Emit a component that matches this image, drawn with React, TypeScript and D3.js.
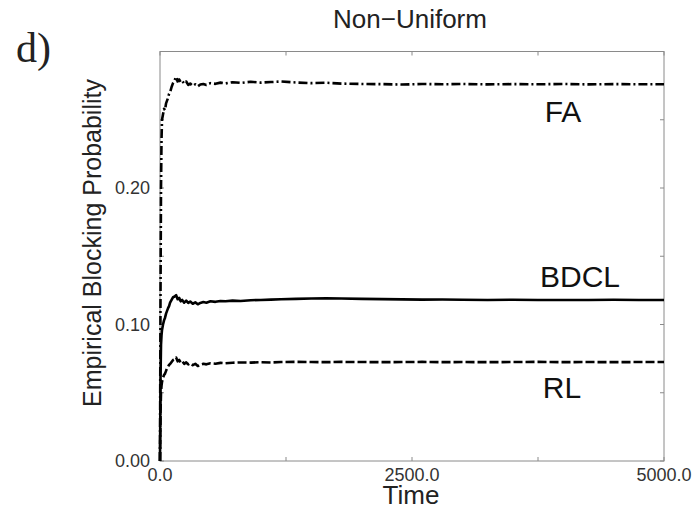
import React from "react";
import * as d3 from "d3";

const times = [0, 5, 10, 15, 20, 30, 40, 50, 60, 70, 80, 90, 100, 115, 130, 145, 160, 175, 190, 205, 220, 240, 260, 280, 300, 325, 350, 375, 400, 430, 460, 500, 550, 600,
  650, 720, 800, 900, 1000, 1100, 1200, 1350, 1500, 1650, 1800, 2000, 2200, 2400, 2600, 2800, 3000, 3250, 3500, 3750, 4000, 4250, 4500, 4750, 5000];

const faValues = [0, 0.12, 0.2, 0.235, 0.25, 0.254, 0.258, 0.257, 0.262, 0.264, 0.266, 0.269, 0.27, 0.274, 0.277, 0.279, 0.2815, 0.278, 0.2795, 0.2775, 0.2785, 0.2765, 0.278, 0.2755, 0.2765, 0.2748, 0.276, 0.2745, 0.2758, 0.2762, 0.2755, 0.2768, 0.2763, 0.2772,
  0.2766, 0.2775, 0.277, 0.2778, 0.2772, 0.2776, 0.278, 0.2773, 0.2768, 0.2771, 0.2765, 0.2762, 0.2761, 0.2758, 0.2762, 0.276, 0.2762, 0.2759, 0.2761, 0.276, 0.2762, 0.2759, 0.2761, 0.276, 0.276];

const bdclValues = [0, 0.06, 0.085, 0.092, 0.096, 0.1, 0.103, 0.105, 0.108, 0.11, 0.112, 0.1135, 0.116, 0.118, 0.12, 0.1205, 0.1215, 0.1185, 0.1195, 0.117, 0.118, 0.116, 0.1175, 0.1158, 0.1168, 0.1152, 0.1162, 0.1148, 0.1158, 0.1165, 0.116, 0.117, 0.1166, 0.1172,
  0.117, 0.1175, 0.1172, 0.1178, 0.118, 0.1182, 0.1185, 0.1188, 0.119, 0.1192, 0.119, 0.1188, 0.1186, 0.1184, 0.1182, 0.1183, 0.1181, 0.118, 0.1181, 0.118, 0.1179, 0.118, 0.1181, 0.118, 0.118];

const rlValues = [0, 0.035, 0.05, 0.055, 0.058, 0.061, 0.063, 0.064, 0.066, 0.068, 0.069, 0.0705, 0.071, 0.0725, 0.074, 0.0745, 0.0758, 0.073, 0.074, 0.0722, 0.0732, 0.0712, 0.0722, 0.0708, 0.0716, 0.0702, 0.0712, 0.0696, 0.0706, 0.0712, 0.0708, 0.0716, 0.0713, 0.0719,
  0.0716, 0.072, 0.0722, 0.0721, 0.0724, 0.0722, 0.0725, 0.0726, 0.0725, 0.0724, 0.0726, 0.0725, 0.0724, 0.0725, 0.0726, 0.0724, 0.0725, 0.0724, 0.0725, 0.0726, 0.0724, 0.0725, 0.0724, 0.0725, 0.0725];

const seriesNames = ["FA", "BDCL", "RL"];
const xTickValues = [0, 1250, 2500, 3750, 5000];
const xTickLabels = ["0.0", "", "2500.0", "", "5000.0"];
const yTickValues = [0, 0.05, 0.1, 0.15, 0.2, 0.25, 0.3];
const yTickLabels = ["0.00", "", "0.10", "", "0.20", "", ""];

const W = 698;
const H = 511;
const left = 160, right = 664, top = 51.5, bottom = 461;

export default function App() {
  const x = d3.scaleLinear().domain([0, 5000]).range([left, right]);
  const y = d3.scaleLinear().domain([0, 0.3]).range([bottom, top]);
  const line = d3.line<number>().x((_, i) => x(times[i])).y((v) => y(v));

  const series = [
    { name: seriesNames[0], values: faValues, dash: "9,3,2,3", lx: 563, ly: 122 },
    { name: seriesNames[1], values: bdclValues, dash: "none", lx: 580, ly: 287 },
    { name: seriesNames[2], values: rlValues, dash: "9,3", lx: 562, ly: 398 },
  ];

  const frame = "#8a8a8a";
  const tickLen = 4;
  const sans = "'Liberation Sans', Arial, Helvetica, sans-serif";

  return (
    <svg width={W} height={H} style={{ position: "absolute", left: 0, top: 0, background: "#fff" }}>
      <text x={16} y={62} fontFamily="'Liberation Serif', 'Times New Roman', serif" fontSize={42} fill="#222">d)</text>
      <text x={410} y={28} textAnchor="middle" fontFamily={sans} fontSize={26} fill="#222">Non−Uniform</text>

      <rect x={left} y={top} width={right - left} height={bottom - top} fill="none" stroke={frame} strokeWidth={1} />

      {xTickValues.map((t, i) => (
        <g key={"xt" + i}>
          <line x1={x(t)} x2={x(t)} y1={bottom} y2={bottom - tickLen} stroke={frame} />
          <line x1={x(t)} x2={x(t)} y1={top} y2={top + tickLen} stroke={frame} />
          {xTickLabels[i] && (
            <text x={x(t)} y={481} textAnchor="middle" fontFamily={sans} fontSize={18} fill="#333">{xTickLabels[i]}</text>
          )}
        </g>
      ))}
      {yTickValues.map((v, i) => (
        <g key={"yt" + i}>
          <line x1={left} x2={left + tickLen} y1={y(v)} y2={y(v)} stroke={frame} />
          <line x1={right} x2={right - tickLen} y1={y(v)} y2={y(v)} stroke={frame} />
          {yTickLabels[i] && (
            <text x={150} y={y(v)} dy="0.35em" textAnchor="end" fontFamily={sans} fontSize={18} fill="#333">{yTickLabels[i]}</text>
          )}
        </g>
      ))}

      <text x={411} y={504} textAnchor="middle" fontFamily={sans} fontSize={26} fill="#222">Time</text>
      <text transform={`translate(101,243) rotate(-90)`} textAnchor="middle" fontFamily={sans} fontSize={25} fill="#222">Empirical Blocking Probability</text>

      {series.map((s) => (
        <g key={s.name}>
          <path d={line(s.values) || ""} fill="none" stroke="#000" strokeWidth={2.6} strokeDasharray={s.dash} strokeLinejoin="round" />
          <text x={s.lx} y={s.ly} textAnchor="middle" fontFamily={sans} fontSize={30} fill="#111">{s.name}</text>
        </g>
      ))}
    </svg>
  );
}
